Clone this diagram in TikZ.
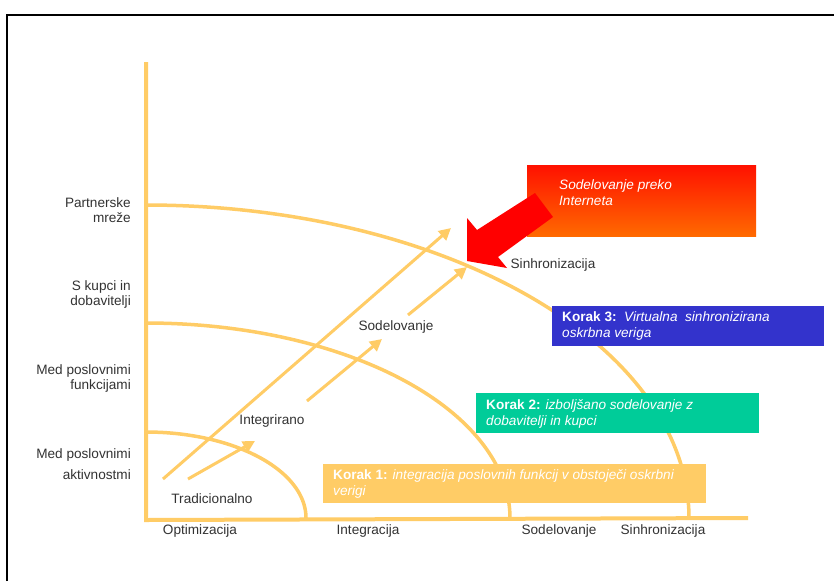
\documentclass[tikz,border=0pt]{standalone}
\usepackage{fontspec}
\setmainfont{Liberation Sans}
\usetikzlibrary{arrows.meta}
\definecolor{axisgold}{HTML}{FFCC66}
\definecolor{labelgray}{HTML}{333333}
\definecolor{stepblue}{HTML}{3333CC}
\definecolor{stepgreen}{HTML}{00CC99}
\definecolor{inettop}{HTML}{FF1100}
\definecolor{inetbottom}{HTML}{FF6A00}
\definecolor{bigred}{HTML}{FF0000}

\begin{document}
\begin{tikzpicture}[x=1pt,y=-1pt,
  every node/.style={font=\fontsize{13.6}{15}\selectfont, text=labelgray, inner sep=0pt},
  axisline/.style={draw=axisgold, line width=4pt},
  level/.style={draw=axisgold, line width=3.5pt},
  flow/.style={draw=axisgold, line width=3pt, -{Triangle[length=12pt,width=12pt]}},
  stepbox/.style={anchor=north west, draw=none},
  boxtext/.style={text=white, align=left, anchor=west, font=\fontsize{13.6}{16}\selectfont},
  axislabel/.style={anchor=center},
  sidelabel/.style={align=right, anchor=east},
]
% page area and frame
\useasboundingbox (0,0) rectangle (834,581);
\fill[white] (0,0) rectangle (834,581);
\draw[black, line width=1.2pt] (7,581) -- (7,15) -- (834,15);

% axes
\coordinate (origin) at (146,518);
\coordinate (ytop) at (146,62);
\coordinate (xend) at (748,518);
\draw[axisline] (ytop) -- (146,520) -- (xend);

% the three levels as quarter ellipses around the origin
\draw[level] plot[domain=0:90, samples=60, smooth] ({146+160*cos(\x)},{518-86*sin(\x)});
\draw[level] plot[domain=0:90, samples=80, smooth] ({146+364*cos(\x)},{518-195*sin(\x)});
\draw[level] plot[domain=0:90, samples=100, smooth] ({146+543*cos(\x)},{518-313*sin(\x)});

% step boxes
\node[stepbox, fill=axisgold, minimum width=383pt, minimum height=39pt] (step1) at (323,464) {};
\node[stepbox, fill=stepgreen, minimum width=283pt, minimum height=40pt] (step2) at (476,393) {};
\node[stepbox, fill=stepblue, minimum width=272pt, minimum height=40pt] (step3) at (552,306) {};
\node[stepbox, top color=inettop, bottom color=inetbottom, minimum width=229pt, minimum height=71pt] (inet) at (527,165) {};

\node[boxtext] (step1text) at (333,483.5) {\textbf{Korak 1:} \textit{integracija poslovnih funkcij v obstoječi oskrbni}\\\textit{verigi}};
\node[boxtext] (step2text) at (486,413.5) {\textbf{Korak 2:} \textit{izboljšano sodelovanje z}\\\textit{dobavitelji in kupci}};
\node[boxtext] (step3text) at (562,326) {\textbf{Korak 3:}\ \ \textit{Virtualna\ \ sinhronizirana}\\\textit{oskrbna veriga}};
\node[boxtext] (inettext) at (559,193) {\textit{Sodelovanje preko}\\\textit{Interneta}};

% big red arrow pointing at the outer level
\fill[bigred] (535,193) -- (553,217) -- (498,257) -- (507,268) -- (467,261)
  -- (467,218) -- (477,230) -- cycle;

% vertical axis labels
\node[sidelabel] (lvl4) at (131,210) {Partnerske\\mreže};
\node[sidelabel] (lvl3) at (131,294) {S kupci in\\dobavitelji};
\node[sidelabel] (lvl2) at (131,378) {Med poslovnimi\\funkcijami};
\node[sidelabel] (lvl1) at (131,464.5) {Med poslovnimi\\[6pt]aktivnostmi};

% horizontal axis labels
\node[axislabel] (h1) at (200,531) {Optimizacija};
\node[axislabel] (h2) at (368,531) {Integracija};
\node[axislabel] (h3) at (559,531) {Sodelovanje};
\node[axislabel] (h4) at (663,531) {Sinhronizacija};

% stage labels along the path
\node[axislabel] (s1) at (212,499) {Tradicionalno};
\node[axislabel] (s2) at (272,421) {Integrirano};
\node[axislabel] (s3) at (396,327) {Sodelovanje};
\node[axislabel] (s4) at (553,265) {Sinhronizacija};

% progression arrows
\coordinate (a1s) at (163,479); \coordinate (a1e) at (451,228);
\coordinate (a2s) at (188,479); \coordinate (a2e) at (255,441);
\coordinate (a3s) at (307,401); \coordinate (a3e) at (382,339);
\coordinate (a4s) at (408,315); \coordinate (a4e) at (467,267);
\draw[flow] (a1s) -- (a1e);
\draw[flow] (a2s) -- (a2e);
\draw[flow] (a3s) -- (a3e);
\draw[flow] (a4s) -- (a4e);
\end{tikzpicture}
\end{document}
